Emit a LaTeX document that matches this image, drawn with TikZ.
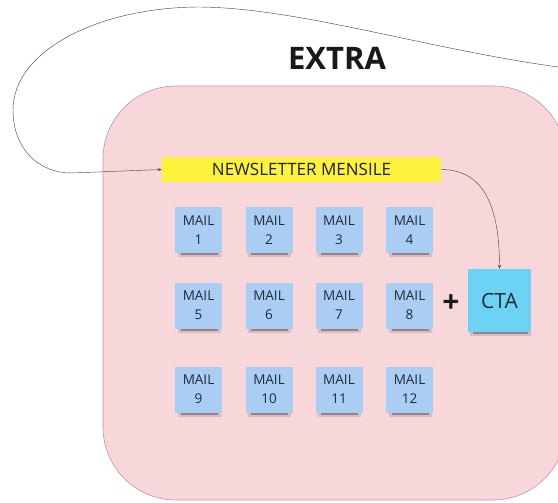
\documentclass[tikz,border=0pt]{standalone}
\usepackage{fontspec}
\setmainfont{Open Sans}
\usetikzlibrary{arrows.meta}
\definecolor{pinkfill}{HTML}{F8D7DA}
\definecolor{pinkline}{HTML}{C98FA8}
\definecolor{mailblue}{HTML}{A9CDF3}
\definecolor{ctablue}{HTML}{6DD3F5}
\definecolor{newsyellow}{HTML}{FDF23C}
\definecolor{inktext}{HTML}{1F2B38}
\begin{document}
\begin{tikzpicture}[x=1pt,y=-1pt,
  group/.style={draw=pinkline, line width=0.6pt, fill=pinkfill, rounded corners=73pt,
    minimum width=463pt, minimum height=414pt, inner sep=0pt},
  mailbox/.style={fill=mailblue, minimum width=47pt, minimum height=46pt, inner sep=0pt,
    align=center, font=\fontsize{13.5}{19}\selectfont, text=inktext},
  ctabox/.style={fill=ctablue, minimum width=63pt, minimum height=63pt, inner sep=0pt,
    font=\fontsize{21}{21}\selectfont, text=inktext},
  newsbar/.style={fill=newsyellow, minimum width=279pt, minimum height=25pt, inner sep=0pt,
    font=\fontsize{17}{17}\selectfont, text=black!88},
  link/.style={draw=black!70, line width=0.45pt, -{Stealth[length=4pt,width=3pt]}}
]
\useasboundingbox (0,0) rectangle (558,503);
\node[group] (grp) at (334.5,293) {};
\node[font=\fontsize{31}{31}\selectfont\bfseries, text=black!90] (title) at (337,58.5) {EXTRA};
\node[newsbar] (news) at (301.5,169.5) {NEWSLETTER MENSILE};
\foreach \i/\cx/\cy in {1/198.5/230, 2/269/230, 3/339/230, 4/409.5/230,
                        5/198.5/305.5, 6/269/305.5, 7/339/305.5, 8/409.5/305.5,
                        9/198.5/389.5, 10/269/389.5, 11/339/389.5, 12/409.5/389.5}{
  \fill[black, opacity=0.12] (\cx-21,\cy+20) rectangle (\cx+22,\cy+27);
  \fill[black, opacity=0.3] (\cx-18,\cy+20) rectangle (\cx+19,\cy+25);
  \node[mailbox] (m\i) at (\cx,\cy) {MAIL\\\i};
}
\fill[black, opacity=0.12] (470,325) rectangle (531,336);
\fill[black, opacity=0.3] (473,325) rectangle (528,334);
\node[ctabox] (cta) at (499.5,300.5) {CTA};
\node[font=\fontsize{30}{30}\selectfont\bfseries, text=black!90] (plus) at (451,304) {+};
\coordinate (loopstart) at (562,67.5);
\draw[link] (loopstart) .. controls (430,50) and (300,8) .. (200,7)
  .. controls (100,7) and (13,50) .. (13,110)
  .. controls (13,150) and (40,173) .. (71,173) -- (news.west);
\draw[link] (news.east) .. controls (480,169.5) and (499.5,200) .. (cta.north);
\end{tikzpicture}
\end{document}
